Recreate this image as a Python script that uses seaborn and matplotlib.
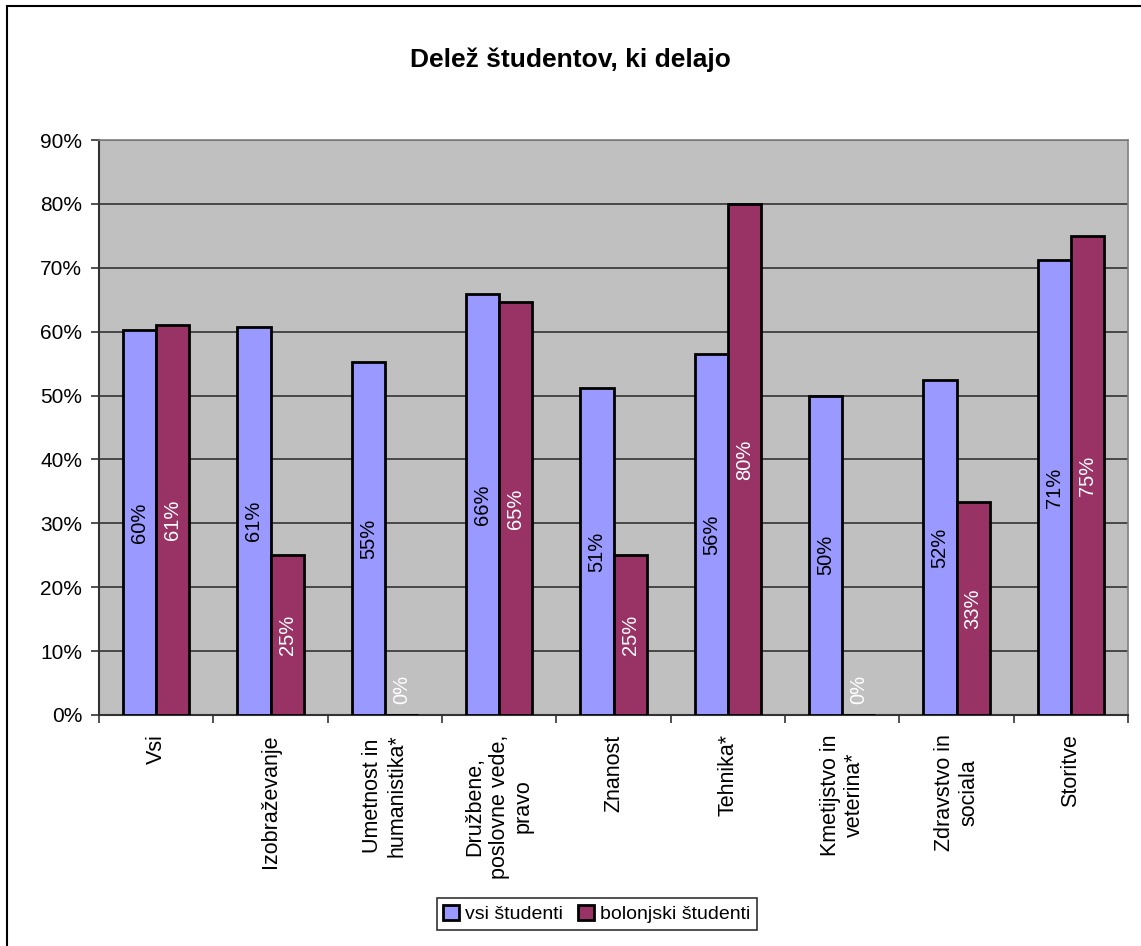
import pandas as pd
import seaborn as sns
import matplotlib.pyplot as plt
from matplotlib.patches import Rectangle

categories = ['Vsi', 'Izobraževanje', 'Umetnost in\nhumanistika*',
              'Družbene,\nposlovne vede,\npravo', 'Znanost', 'Tehnika*',
              'Kmetijstvo in\nveterina*', 'Zdravstvo in\nsociala', 'Storitve']
series = ['vsi študenti', 'bolonjski študenti']
vsi = [60.2, 60.7, 55.2, 65.9, 51.2, 56.5, 50.0, 52.4, 71.2]
bolonjski = [61.1, 25.0, 0.0, 64.6, 25.0, 80.0, 0.0, 33.3, 75.0]
yticks = [0, 10, 20, 30, 40, 50, 60, 70, 80, 90]

df = pd.DataFrame({
    'kategorija': categories * 2,
    'skupina': [series[0]] * len(vsi) + [series[1]] * len(bolonjski),
    'delez': vsi + bolonjski,
})

sns.set_style('white')
plt.rcParams['font.family'] = ['Liberation Sans', 'DejaVu Sans']
plt.rcParams['text.color'] = 'black'
plt.rcParams['xtick.color'] = 'black'
plt.rcParams['ytick.color'] = 'black'

fig = plt.figure(figsize=(11.41, 9.46), dpi=100)
ax = fig.add_axes([0.0868, 0.2442, 0.9018, 0.6078])

sns.barplot(data=df, x='kategorija', y='delez', hue='skupina', order=categories,
            hue_order=series, palette=['#9999FF', '#993366'], width=0.58,
            edgecolor='black', linewidth=2, saturation=1, ax=ax, zorder=3)

ax.set_facecolor('#C0C0C0')
ax.set_ylim(0, 90)
ax.set_xlim(-0.5, len(categories) - 0.5)
ax.set_yticks(yticks)
ax.set_yticklabels([f'{t}%' for t in yticks], fontsize=15)
ax.yaxis.grid(True, color='#333333', linewidth=1.2, zorder=0)
ax.set_axisbelow(True)
ax.set_xlabel('')
ax.set_ylabel('')

# category boundaries as ticks
ax.set_xticks([i - 0.5 for i in range(len(categories) + 1)], minor=True)
ax.set_xticks(range(len(categories)))
ax.set_xticklabels(categories, rotation=90, fontsize=15.5, ha='center', va='top',
                   multialignment='center')
ax.tick_params(axis='x', which='major', length=0, pad=14)
ax.tick_params(axis='x', which='minor', length=6, width=1.2, color='#333333',
               direction='out', bottom=True)
ax.tick_params(axis='y', length=6, width=1.2, color='#333333', left=True, pad=6)

for s in ['top', 'right']:
    ax.spines[s].set_color('#808080')
    ax.spines[s].set_linewidth(1.2)
for s in ['left', 'bottom']:
    ax.spines[s].set_color('#333333')
    ax.spines[s].set_linewidth(1.5)

text_colors = ['black', 'white']
for cont, vals, col in zip(ax.containers, [vsi, bolonjski], text_colors):
    ax.bar_label(cont, labels=[f'{round(v)}%' if v > 0 else '' for v in vals],
                 label_type='center', rotation=90, color=col, fontsize=14.5)
    ax.bar_label(cont, labels=['0%' if v == 0 else '' for v in vals],
                 label_type='edge', rotation=90, color=col, fontsize=14.5, padding=8)

ax.legend_.remove()
handles, labels = ax.get_legend_handles_labels()
leg = fig.legend(handles, labels, loc='center', bbox_to_anchor=(0.523, 0.0335),
                 ncol=2, fontsize=14, frameon=True, fancybox=False,
                 edgecolor='black', handlelength=0.8, handleheight=0.8,
                 handletextpad=0.3, columnspacing=0.8, borderpad=0.35)
leg.get_frame().set_linewidth(1.2)

fig.text(0.5, 0.9366, 'Delež študentov, ki delajo', ha='center', va='center',
         fontsize=19, fontweight='bold')

fig.patches.append(Rectangle((7 / 1141, -0.1), 1.2, 1 - 6 / 946 + 0.1,
                             transform=fig.transFigure, fill=False,
                             edgecolor='black', linewidth=1.5))

fig.savefig('out.png', dpi=100)
plt.close(fig)
